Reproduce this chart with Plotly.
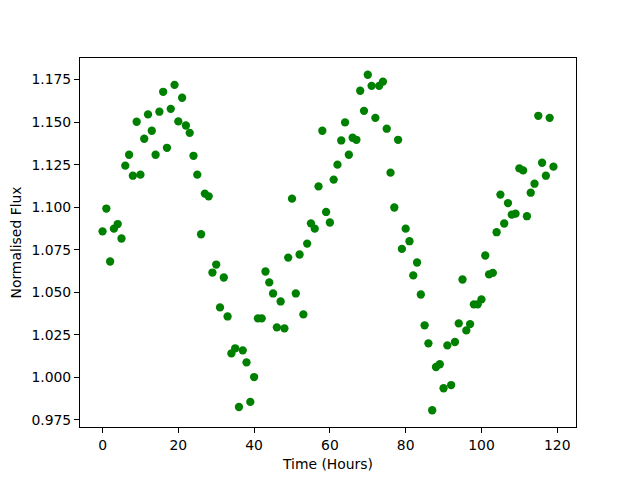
import plotly.graph_objects as go

hours = list(range(120))
flux = [
    1.0858, 1.0992, 1.0681, 1.0874, 1.0901, 1.0816, 1.1244, 1.1308, 1.1185, 1.1502,
    1.1191, 1.1402, 1.1545, 1.1449, 1.1308, 1.1561, 1.1678, 1.1349, 1.1578, 1.1719,
    1.1504, 1.1643, 1.1480, 1.1437, 1.1302, 1.1191, 1.0841, 1.1080, 1.1064, 1.0616,
    1.0663, 1.0411, 1.0587, 1.0358, 1.0141, 1.0171, 0.9826, 1.0159, 1.0088, 0.9856,
    1.0002, 1.0347, 1.0347, 1.0622, 1.0558, 1.0493, 1.0294, 1.0446, 1.0288, 1.0704,
    1.1050, 1.0493, 1.0722, 1.0370, 1.0786, 1.0905, 1.0874, 1.1122, 1.1449, 1.0972,
    1.0910, 1.1162, 1.1250, 1.1392, 1.1498, 1.1308, 1.1408, 1.1396, 1.1684, 1.1566,
    1.1778, 1.1713, 1.1525, 1.1713, 1.1738, 1.1461, 1.1203, 1.0998, 1.1396, 1.0755,
    1.0874, 1.0800, 1.0599, 1.0675, 1.0487, 1.0306, 1.0200, 0.9807, 1.0061, 1.0077,
    0.9936, 1.0188, 0.9955, 1.0208, 1.0317, 1.0575, 1.0276, 1.0313, 1.0429, 1.0429,
    1.0458, 1.0716, 1.0605, 1.0614, 1.0853, 1.1074, 1.0904, 1.1024, 1.0956, 1.0962,
    1.1228, 1.1216, 1.0947, 1.1085, 1.1138, 1.1537, 1.1261, 1.1185, 1.1525, 1.1238,
]
x_ticks = [0, 20, 40, 60, 80, 100, 120]
y_ticks = [0.975, 1.000, 1.025, 1.050, 1.075, 1.100, 1.125, 1.150, 1.175]

xmin, xmax = min(hours), max(hours)
ymin, ymax = min(flux), max(flux)
xpad = (xmax - xmin) * 0.05
ypad = (ymax - ymin) * 0.05

fig = go.Figure()
fig.add_trace(go.Scatter(
    x=hours, y=flux, mode="markers",
    marker=dict(color="green", size=8.3, line=dict(width=0)),
    showlegend=False,
))

font = dict(family="DejaVu Sans", size=13.9, color="black")
axis_common = dict(
    showline=True, linecolor="black", linewidth=1, mirror=True,
    ticks="outside", ticklen=5, tickwidth=1, tickcolor="black",
    showgrid=False, zeroline=False, tickfont=font, automargin=False,
)
fig.update_layout(
    width=632, height=472,
    margin=dict(l=72, r=64, t=50, b=53),
    paper_bgcolor="white", plot_bgcolor="white",
    font=font,
    xaxis=dict(range=[xmin - xpad, xmax + xpad], tickvals=x_ticks,
               title=dict(text="Time (Hours)", font=font, standoff=7), **axis_common),
    yaxis=dict(range=[ymin - ypad, ymax + ypad], tickvals=y_ticks, tickformat=".3f",
               title=dict(text="Normalised Flux", font=font, standoff=6), **axis_common),
)
fig.write_html("out.html")
